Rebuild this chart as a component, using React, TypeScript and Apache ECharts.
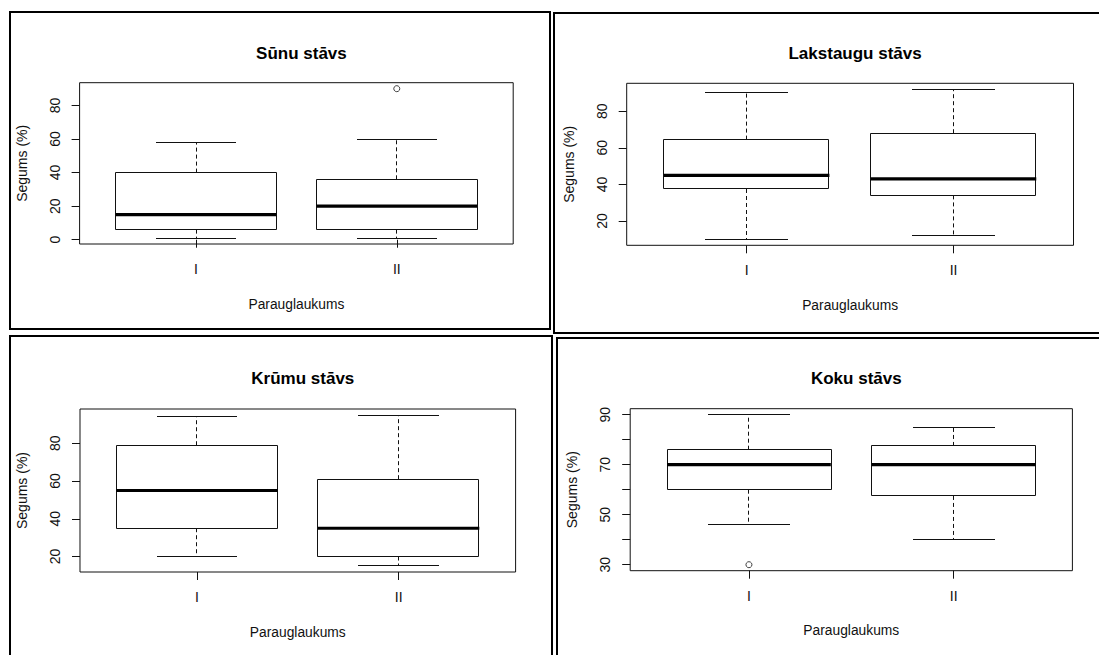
import React, { useEffect, useRef } from "react";
import * as echarts from "echarts";

// Category names (x axis)
const categories = ["I", "II"];
const panelTitles = ["Sūnu stāvs", "Lakstaugu stāvs", "Krūmu stāvs", "Koku stāvs"];
const xAxisTitle = "Parauglaukums";
const yAxisTitle = "Segums (%)";

// Box statistics per category: [lower whisker, Q1, median, Q3, upper whisker]
const sunuStats = [
  [1, 6, 15, 40, 58],
  [1, 6, 20, 36, 60],
];
const sunuOutliers = [[2, 90]];

const lakstauguStats = [
  [10, 37.5, 45, 64.5, 90],
  [12, 34, 43, 68, 92],
];
const lakstauguOutliers: number[][] = [];

const krumuStats = [
  [20, 35, 55, 79, 94],
  [15, 20, 35, 61, 95],
];
const krumuOutliers: number[][] = [];

const kokuStats = [
  [46, 60, 70, 76, 90],
  [40, 57.5, 70, 77.5, 85],
];
const kokuOutliers = [[1, 30]];

// Tick values and tick labels on the y axes
const sunuYTicks = [0, 20, 40, 60, 80];
const lakstauguYTicks = [20, 40, 60, 80];
const krumuYTicks = [20, 40, 60, 80];
const kokuYTicks = [30, 40, 50, 60, 70, 80, 90];
const kokuYLabels = [30, 50, 70, 90];

const panels = [
  { title: panelTitles[0], stats: sunuStats, outliers: sunuOutliers, ticks: sunuYTicks, labels: sunuYTicks },
  { title: panelTitles[1], stats: lakstauguStats, outliers: lakstauguOutliers, ticks: lakstauguYTicks, labels: lakstauguYTicks },
  { title: panelTitles[2], stats: krumuStats, outliers: krumuOutliers, ticks: krumuYTicks, labels: krumuYTicks },
  { title: panelTitles[3], stats: kokuStats, outliers: kokuOutliers, ticks: kokuYTicks, labels: kokuYLabels },
];

// Layout (pixels)
const grids = [
  { left: 79.6, top: 82.7, width: 433.6, height: 161.3 },
  { left: 626.7, top: 83.3, width: 446.8, height: 162 },
  { left: 80, top: 409, width: 435.6, height: 163 },
  { left: 630.2, top: 408.7, width: 442.2, height: 162 },
];
const titleTops = [40, 40, 365, 365];
const frames = [
  { x: 10, y: 12, width: 540, height: 317 },
  { x: 554, y: 13, width: 600, height: 320 },
  { x: 10, y: 336, width: 542, height: 400 },
  { x: 557, y: 338, width: 600, height: 400 },
];

const FONT = "'Liberation Sans', Arial, Helvetica, sans-serif";
const INK = "#111";

export default function App() {
  const ref = useRef<HTMLDivElement>(null);

  useEffect(() => {
    if (!ref.current) return;
    const chart = echarts.init(ref.current, undefined, { renderer: "svg" });

    const crisp = (v: number) => Math.round(v - 0.5) + 0.5;

    const renderBox = (params: any, api: any) => {
      const x = api.value(0);
      const lo = api.value(1);
      const q1 = api.value(2);
      const med = api.value(3);
      const q3 = api.value(4);
      const hi = api.value(5);
      const c = (xx: number, yy: number) => api.coord([xx, yy]);
      const bl = c(x - 0.4, q1);
      const tr = c(x + 0.4, q3);
      const cx = crisp(c(x, 0)[0]);
      const pLo = c(x, lo)[1];
      const pHi = c(x, hi)[1];
      const pQ1 = bl[1];
      const pQ3 = tr[1];
      const pMed = c(x, med)[1];
      const sL = c(x - 0.2, lo)[0];
      const sR = c(x + 0.2, lo)[0];
      const lineStyle = { stroke: INK, lineWidth: 1 };
      const dashStyle = { stroke: INK, lineWidth: 1, lineDash: [4, 3] };
      return {
        type: "group",
        children: [
          { type: "line", shape: { x1: cx, y1: pQ3, x2: cx, y2: crisp(pHi) }, style: dashStyle },
          { type: "line", shape: { x1: cx, y1: pQ1, x2: cx, y2: crisp(pLo) }, style: dashStyle },
          { type: "line", shape: { x1: Math.round(sL), y1: crisp(pHi), x2: Math.round(sR), y2: crisp(pHi) }, style: lineStyle },
          { type: "line", shape: { x1: Math.round(sL), y1: crisp(pLo), x2: Math.round(sR), y2: crisp(pLo) }, style: lineStyle },
          {
            type: "rect",
            shape: {
              x: crisp(bl[0]),
              y: crisp(tr[1]),
              width: Math.round(tr[0] - bl[0]),
              height: Math.round(bl[1] - tr[1]),
            },
            style: { stroke: INK, lineWidth: 1, fill: "#fff" },
          },
          { type: "line", shape: { x1: bl[0], y1: pMed, x2: tr[0], y2: pMed }, style: { stroke: "#000", lineWidth: 3.2 } },
        ],
      };
    };

    const xAxes: any[] = [];
    const yAxes: any[] = [];
    const series: any[] = [];
    const titles: any[] = [];

    panels.forEach((p, i) => {
      const vals: number[] = [];
      p.stats.forEach((s) => vals.push(...s));
      p.outliers.forEach((o) => vals.push(o[1]));
      const dmin = Math.min(...vals);
      const dmax = Math.max(...vals);
      const pad = (dmax - dmin) * 0.04;
      const xPad = (categories.length - 0.5 - 0.5 + 1) * 0.04;

      titles.push({
        text: p.title,
        left: grids[i].left + grids[i].width / 2,
        top: titleTops[i],
        textAlign: "center",
        textStyle: { fontFamily: FONT, fontSize: 17, fontWeight: "bold", color: "#000" },
      });

      xAxes.push({
        gridIndex: i,
        type: "value",
        min: 0.5 - xPad,
        max: categories.length + 0.5 + xPad,
        name: xAxisTitle,
        nameLocation: "middle",
        nameGap: 53,
        nameTextStyle: { fontFamily: FONT, fontSize: 13.8, color: INK },
        axisLine: { show: false },
        splitLine: { show: false },
        axisTick: {
          show: true,
          length: 8,
          customValues: categories.map((_, k) => k + 1),
          lineStyle: { color: INK, width: 1 },
        },
        axisLabel: {
          show: true,
          margin: 18,
          customValues: categories.map((_, k) => k + 1),
          formatter: (v: number) => categories[Math.round(v) - 1] ?? "",
          fontFamily: FONT,
          fontSize: 14,
          color: INK,
        },
      });

      yAxes.push({
        gridIndex: i,
        type: "value",
        min: dmin - pad,
        max: dmax + pad,
        name: yAxisTitle,
        nameLocation: "middle",
        nameGap: 51,
        nameTextStyle: { fontFamily: FONT, fontSize: 14, color: INK },
        axisLine: { show: false },
        splitLine: { show: false },
        axisTick: {
          show: true,
          length: 8,
          customValues: p.ticks,
          lineStyle: { color: INK, width: 1 },
        },
        axisLabel: {
          show: true,
          rotate: 90,
          margin: 18,
          customValues: p.labels,
          fontFamily: FONT,
          fontSize: 14,
          color: INK,
        },
      });

      series.push({
        type: "custom",
        xAxisIndex: i,
        yAxisIndex: i,
        renderItem: renderBox,
        encode: { x: 0, y: [1, 2, 3, 4, 5] },
        data: p.stats.map((s, k) => [k + 1, ...s]),
        z: 2,
      });

      series.push({
        type: "scatter",
        xAxisIndex: i,
        yAxisIndex: i,
        symbol: "circle",
        symbolSize: 6,
        itemStyle: { color: "#fff", borderColor: INK, borderWidth: 1 },
        data: p.outliers,
        z: 3,
      });
    });

    chart.setOption({
      animation: false,
      backgroundColor: "#fff",
      title: titles,
      grid: grids.map((g) => ({
        ...g,
        show: true,
        borderColor: INK,
        borderWidth: 1,
        backgroundColor: "transparent",
        containLabel: false,
      })),
      xAxis: xAxes,
      yAxis: yAxes,
      series,
      graphic: frames.map((f) => ({
        type: "rect",
        silent: true,
        z: 100,
        shape: f,
        style: { fill: "none", stroke: "#000", lineWidth: 2 },
      })),
    });

    return () => chart.dispose();
  }, []);

  return (
    <div
      ref={ref}
      style={{ position: "absolute", left: 0, top: 0, width: 1099, height: 655 }}
    />
  );
}
